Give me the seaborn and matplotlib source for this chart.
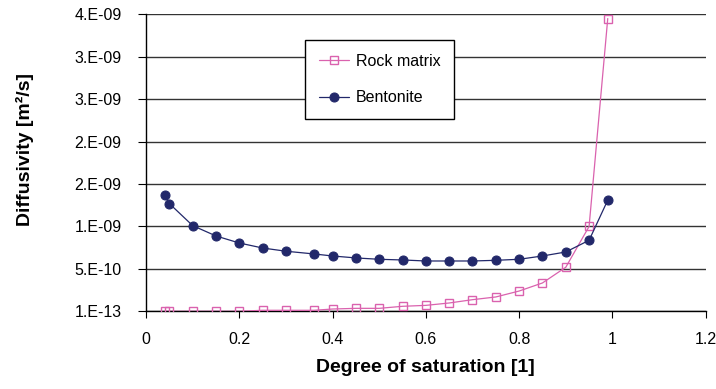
import matplotlib
matplotlib.use("Agg")
import matplotlib.pyplot as plt
import seaborn as sns
import pandas as pd
from matplotlib.ticker import FixedLocator, FixedFormatter

# ---- data ----
saturation = [0.04, 0.05, 0.10, 0.15, 0.20, 0.25, 0.30, 0.36, 0.40, 0.45, 0.50,
              0.55, 0.60, 0.65, 0.70, 0.75, 0.80, 0.85, 0.90, 0.95, 0.99]
rock_matrix = [1e-13, 1e-13, 1e-13, 1e-13, 1e-13, 1.2e-11, 1.2e-11, 1.2e-11, 2.7e-11,
               3.5e-11, 3.5e-11, 5.9e-11, 7.0e-11, 9.8e-11, 1.37e-10, 1.69e-10,
               2.39e-10, 3.34e-10, 5.19e-10, 1.0e-09, 3.45e-09]
bentonite = [1.37e-09, 1.27e-09, 1.01e-09, 8.88e-10, 8.05e-10, 7.46e-10, 7.08e-10,
             6.76e-10, 6.52e-10, 6.29e-10, 6.13e-10, 6.05e-10, 5.93e-10, 5.93e-10,
             5.93e-10, 6.01e-10, 6.13e-10, 6.52e-10, 6.99e-10, 8.37e-10, 1.31e-09]
y_ticks = [1e-13, 5e-10, 1e-09, 1.5e-09, 2e-09, 2.5e-09, 3e-09, 3.5e-09]
y_tick_labels = ["1.E-13", "5.E-10", "1.E-09", "2.E-09", "2.E-09", "3.E-09", "3.E-09", "4.E-09"]
x_ticks = [0, 0.2, 0.4, 0.6, 0.8, 1.0, 1.2]
x_tick_labels = ["0", "0.2", "0.4", "0.6", "0.8", "1", "1.2"]

df = pd.DataFrame({"S": saturation, "Rock matrix": rock_matrix, "Bentonite": bentonite})

sns.set_style("ticks")
plt.rcParams["font.family"] = ["Liberation Sans", "DejaVu Sans"]
plt.rcParams["text.color"] = "black"
plt.rcParams["axes.labelcolor"] = "black"

fig = plt.figure(figsize=(7.16, 3.89), dpi=100)
L, R, T, B = 146.0, 705.7, 14.3, 311.3
ax = fig.add_axes([L / 716, 1 - B / 389, (R - L) / 716, (B - T) / 389])

pink = "#DA62AE"
navy = "#22286A"

sns.lineplot(data=df, x="S", y="Rock matrix", ax=ax, color=pink, lw=0.9,
             marker="s", markersize=6, markerfacecolor="none",
             markeredgecolor=pink, markeredgewidth=1.0, sort=False,
             label="Rock matrix", zorder=3)
sns.lineplot(data=df, x="S", y="Bentonite", ax=ax, color=navy, lw=0.9,
             marker="o", markersize=6.5, markerfacecolor=navy,
             markeredgecolor=navy, sort=False, label="Bentonite", zorder=4)

ax.set_xlim(0, 1.2)
ax.set_ylim(1e-13, 3.5e-09)
ax.yaxis.set_major_locator(FixedLocator(y_ticks))
ax.yaxis.set_major_formatter(FixedFormatter(y_tick_labels))
ax.xaxis.set_major_locator(FixedLocator(x_ticks))
ax.xaxis.set_major_formatter(FixedFormatter(x_tick_labels))

ax.grid(axis="y", color="#333333", lw=1.0)
ax.set_axisbelow(True)
for s in ["top", "right"]:
    ax.spines[s].set_visible(False)
for s in ["left", "bottom"]:
    ax.spines[s].set_color("black")
    ax.spines[s].set_linewidth(1.0)

ax.tick_params(axis="both", which="major", direction="out", width=0.8,
               colors="black", labelsize=11.5, left=True, bottom=True)
ax.tick_params(axis="x", length=5, pad=10)
ax.tick_params(axis="y", length=6, pad=11.5)

ax.set_xlabel("Degree of saturation [1]", fontsize=14, fontweight="bold")
ax.xaxis.set_label_coords(0.5, -0.16)
ax.set_ylabel("Diffusivity [m²/s]", fontsize=14, fontweight="bold")
ax.yaxis.set_label_coords(-0.2, 0.546)

leg = ax.legend(loc="upper left", bbox_to_anchor=(0.284, 0.9125), frameon=True,
                fancybox=False, fontsize=11.5, borderpad=0.85, labelspacing=1.35,
                handlelength=1.9, handletextpad=0.45, borderaxespad=0)
leg.get_frame().set_edgecolor("black")
leg.get_frame().set_linewidth(1.0)
leg.get_frame().set_facecolor("white")
leg.get_frame().set_alpha(1)

fig.savefig("out.png", dpi=100)
